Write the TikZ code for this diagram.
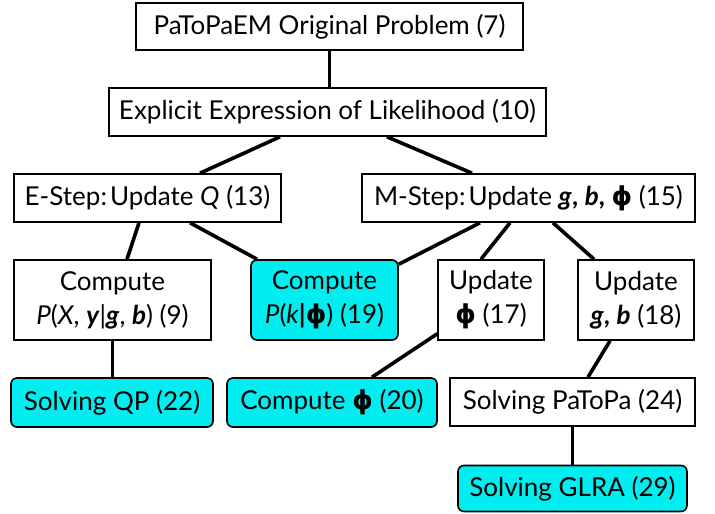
\documentclass[tikz,border=0pt]{standalone}
\usepackage{fontspec}
\setmainfont{Lato}
\newfontfamily\phifont{DejaVu Sans}
\newcommand{\bphi}{{\phifont\bfseries ϕ}}
\newcommand{\bvec}[1]{\textbf{\textit{#1}}}
\definecolor{boxcyan}{RGB}{0,238,240}
\begin{document}
\begin{tikzpicture}[x=1pt,y=-1pt,
  box/.style={draw=black,line width=1.6pt,fill=white,inner sep=0pt,align=center,
    font=\fontsize{26}{34}\selectfont,text=black},
  cbox/.style={box,fill=boxcyan,rounded corners=6pt},
  conn/.style={line width=3.6pt,draw=black}]
\useasboundingbox (0,0) rectangle (715,514);
\node[box,minimum width=387pt,minimum height=47pt] (top) at (329.5,26.5) {PaToPaEM Original Problem (7)};
\node[box,minimum width=437pt,minimum height=48pt] (expl) at (327.5,112) {Explicit Expression of Likelihood (10)};
\node[box,minimum width=267pt,minimum height=48pt] (e) at (147.5,198) {E-Step:\hspace{3pt}Update \textit{Q} (13)};
\node[box,minimum width=333pt,minimum height=48pt] (m) at (528.5,198) {M-Step:\hspace{3pt}Update \bvec{g}\textbf{,} \bvec{b}\textbf{,} \bphi{} (15)};
\node[box,minimum width=197pt,minimum height=80pt] (c9) at (112.5,300) {Compute\\\textit{P}(\textit{X}, \bvec{y}|\bvec{g}, \bvec{b}) (9)};
\node[cbox,minimum width=147pt,minimum height=80pt] (pk) at (324.5,300) {Compute\\\textit{P}(\textit{k}\textbf{|}\bphi) (19)};
\node[box,minimum width=106pt,minimum height=80pt] (uphi) at (491,300) {Update\\\bphi{} (17)};
\node[box,minimum width=116pt,minimum height=80pt] (ugb) at (636,300) {Update\\\bvec{g}\textbf{,} \bvec{b} (18)};
\node[cbox,minimum width=202pt,minimum height=49pt] (qp) at (112,402.5) {Solving QP (22)};
\node[cbox,minimum width=210pt,minimum height=49pt] (cphi) at (332,402.5) {Compute \bphi{} (20)};
\node[box,minimum width=245pt,minimum height=48pt] (pat) at (572.5,402) {Solving PaToPa (24)};
\node[cbox,minimum width=229pt,minimum height=46pt] (glra) at (572.5,488.5) {Solving GLRA (29)};
\draw[conn] (top.south) -- (top.south |- expl.north);
\draw[conn] ([xshift=-47.5pt]expl.south) -- ([xshift=52.5pt]e.north);
\draw[conn] ([xshift=59.5pt]expl.south) -- ([xshift=-56.5pt]m.north);
\draw[conn] ([xshift=-8.5pt]e.south) -- ([xshift=14.5pt]c9.north);
\draw[conn] ([xshift=42.5pt]e.south) -- ([xshift=-67.5pt]pk.north);
\draw[conn] ([xshift=-48.5pt]m.south) -- ([yshift=-5pt]pk.north east);
\draw[conn] ([xshift=-18.5pt]m.south) -- ([xshift=-10pt]uphi.north);
\draw[conn] ([xshift=24.5pt]m.south) -- ([xshift=-42pt]ugb.north);
\draw[conn] (c9.south) -- (c9.south |- qp.north);
\draw[conn] ([yshift=7pt]uphi.south west) -- ([xshift=40pt]cphi.north);
\draw[conn] ([xshift=-26pt]ugb.south) -- ([xshift=15.5pt]pat.north);
\draw[conn] (pat.south) -- (pat.south |- glra.north);
\end{tikzpicture}
\end{document}
